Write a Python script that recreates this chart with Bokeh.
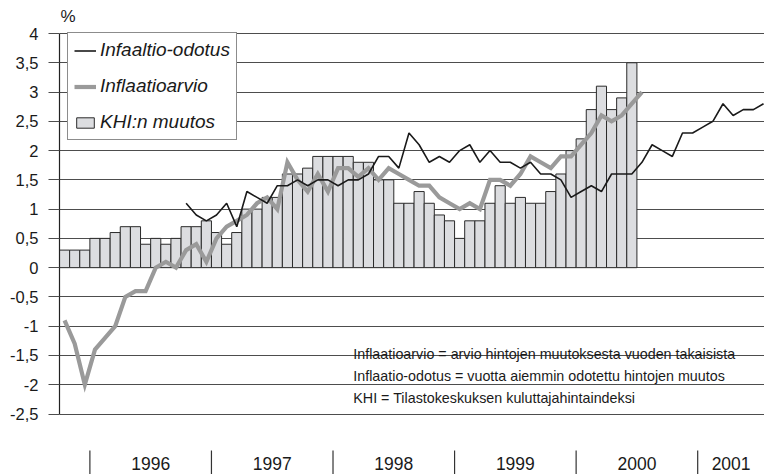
from bokeh.plotting import figure
from bokeh.models import Range1d, FixedTicker, Legend, LegendItem
from bokeh.core.properties import value
from bokeh.embed import file_html
from bokeh.resources import INLINE

# Monthly data; month index 0 = October 1995
khi_start = 0
khi_muutos = [0.3, 0.3, 0.3, 0.5, 0.5, 0.6, 0.7, 0.7, 0.4, 0.5, 0.4, 0.5,
              0.7, 0.7, 0.8, 0.6, 0.4, 0.6, 1.0, 1.0, 1.2, 1.2, 1.6, 1.6,
              1.7, 1.9, 1.9, 1.9, 1.9, 1.8, 1.8, 1.5, 1.5, 1.1, 1.1, 1.3,
              1.1, 0.9, 0.8, 0.5, 0.8, 0.8, 1.1, 1.4, 1.1, 1.2, 1.1, 1.1,
              1.3, 1.6, 2.0, 2.2, 2.7, 3.1, 2.7, 2.9, 3.5]

arvio_start = 0
inflaatioarvio = [-0.9, -1.3, -2.0, -1.4, -1.2, -1.0, -0.5, -0.4, -0.4, 0.0, 0.1, 0.0,
                  0.3, 0.4, 0.1, 0.5, 0.7, 0.8, 0.9, 1.1, 1.2, 1.0, 1.8, 1.5,
                  1.3, 1.6, 1.3, 1.7, 1.7, 1.55, 1.7, 1.5, 1.7, 1.6, 1.5, 1.4,
                  1.4, 1.2, 1.1, 1.0, 1.1, 1.0, 1.5, 1.5, 1.4, 1.6, 1.9, 1.8,
                  1.7, 1.9, 1.9, 2.1, 2.3, 2.6, 2.5, 2.6, 2.8, 3.0]

odotus_start = 12
inflaatio_odotus = [1.1, 0.9, 0.8, 0.9, 1.1, 0.7, 1.3, 1.2, 1.1, 1.4, 1.4, 1.5,
                    1.4, 1.5, 1.5, 1.4, 1.5, 1.5, 1.6, 1.9, 1.9, 1.7, 2.3, 2.1,
                    1.8, 1.9, 1.8, 2.0, 2.1, 1.8, 2.0, 1.8, 1.8, 1.7, 1.8, 1.6,
                    1.6, 1.5, 1.2, 1.3, 1.4, 1.3, 1.6, 1.6, 1.6, 1.8, 2.1, 2.0,
                    1.9, 2.3, 2.3, 2.4, 2.5, 2.8, 2.6, 2.7, 2.7, 2.8]

years = ["1996", "1997", "1998", "1999", "2000", "2001"]
year_start_month = [3, 15, 27, 39, 51, 63]

y_ticks = [-2.5, -2, -1.5, -1, -0.5, 0, 0.5, 1, 1.5, 2, 2.5, 3, 3.5, 4]
y_tick_labels = ["-2,5", "-2", "-1,5", "-1", "-0,5", "0", "0,5", "1", "1,5", "2", "2,5", "3", "3,5", "4"]

notes = ["Inflaatioarvio = arvio hintojen muutoksesta vuoden takaisista",
         "Inflaatio-odotus = vuotta aiemmin odotettu hintojen muutos",
         "KHI = Tilastokeskuksen kuluttajahintaindeksi"]

# ---- layout constants ----
W, H = 764, 475
LEFT = 59
PX_X = 10.13          # px per month
PX_Y = 58.54          # px per unit
TOP_PAD = 33          # px from canvas top to y=4
x_end = (W - LEFT) / PX_X
y_end = 4 + TOP_PAD / PX_Y
y_start = y_end - H / PX_Y

FONT = "Liberation Sans"
TXT = "#1a1a1a"
GRID = "#4d4d4d"

p = figure(width=W, height=H, output_backend="svg", toolbar_location=None,
           x_range=Range1d(0, x_end), y_range=Range1d(y_start, y_end),
           x_axis_location=None, title=None,
           min_border_left=LEFT, min_border_right=0, min_border_top=0, min_border_bottom=0)
p.outline_line_color = None
p.background_fill_color = "white"
p.border_fill_color = "white"
p.xgrid.visible = False

yax = p.yaxis[0]
yax.ticker = FixedTicker(ticks=y_ticks)
yax.major_label_overrides = {t: l for t, l in zip(y_ticks, y_tick_labels)}
yax.bounds = (min(y_ticks), max(y_ticks))
yax.axis_line_color = "#222222"
yax.axis_line_width = 1.2
yax.major_tick_out = 11
yax.major_tick_in = 0
yax.major_tick_line_color = GRID
yax.major_tick_line_width = 1.2
yax.minor_tick_line_color = None
yax.major_label_standoff = 10
yax.major_label_text_font = FONT
yax.major_label_text_font_size = "16.5px"
yax.major_label_text_color = TXT

p.ygrid.grid_line_color = GRID
p.ygrid.grid_line_width = 1.2

# bars
khi_x = [khi_start + i + 0.5 for i in range(len(khi_muutos))]
bars = p.vbar(x=khi_x, top=khi_muutos, bottom=0, width=1.0,
              fill_color="#dcdde0", line_color="#2a2a2a", line_width=1)

# lines
arvio_x = [arvio_start + i + 0.5 for i in range(len(inflaatioarvio))]
grey = p.line(arvio_x, inflaatioarvio, line_color="#9a9a9a", line_width=4.2, line_join="miter")

odotus_x = [odotus_start + i + 0.5 for i in range(len(inflaatio_odotus))]
black = p.line(odotus_x, inflaatio_odotus, line_color="#1a1a1a", line_width=1.6)

# year separators and labels
sep_top = min(y_ticks) - 36.5 / PX_Y
sep_bot = min(y_ticks) - 60 / PX_Y
p.segment(x0=year_start_month, y0=[sep_top] * len(years),
          x1=year_start_month, y1=[sep_bot] * len(years),
          line_color="#333333", line_width=1.2)
bounds = year_start_month + [x_end]
label_x = [(bounds[i] + bounds[i + 1]) / 2 for i in range(len(years))]
label_y = min(y_ticks) - 49 / PX_Y
p.text(x=label_x, y=[label_y] * len(years), text=years,
       text_font=value(FONT), text_font_size=value("17.5px"), text_color=TXT,
       text_align="center", text_baseline="middle")

# % label
p.text(x=[0.1], y=[max(y_ticks) + 17 / PX_Y], text=["%"],
       text_font=value(FONT), text_font_size=value("17px"), text_color=TXT,
       text_align="left", text_baseline="middle")

# explanatory notes
note_x = 29.0
note_y = [-1.483, -1.859, -2.235]
p.text(x=[note_x] * len(notes), y=note_y, text=notes,
       text_font=value(FONT), text_font_size=value("14.3px"), text_color=TXT,
       text_align="left", text_baseline="alphabetic")

legend = Legend(items=[LegendItem(label="Infaaltio-odotus", renderers=[black]),
                       LegendItem(label="Inflaatioarvio", renderers=[grey]),
                       LegendItem(label="KHI:n muutos", renderers=[bars])],
                location=(8, 335), padding=6, spacing=14, margin=0,
                glyph_width=22, glyph_height=13, label_height=20, label_standoff=4,
                border_line_color="#1a1a1a", border_line_width=1.2,
                background_fill_color="white", background_fill_alpha=1.0,
                label_text_font=FONT, label_text_font_style="italic",
                label_text_font_size="19px", label_text_color=TXT)
p.add_layout(legend)

open("out.html", "w").write(file_html(p, INLINE))
